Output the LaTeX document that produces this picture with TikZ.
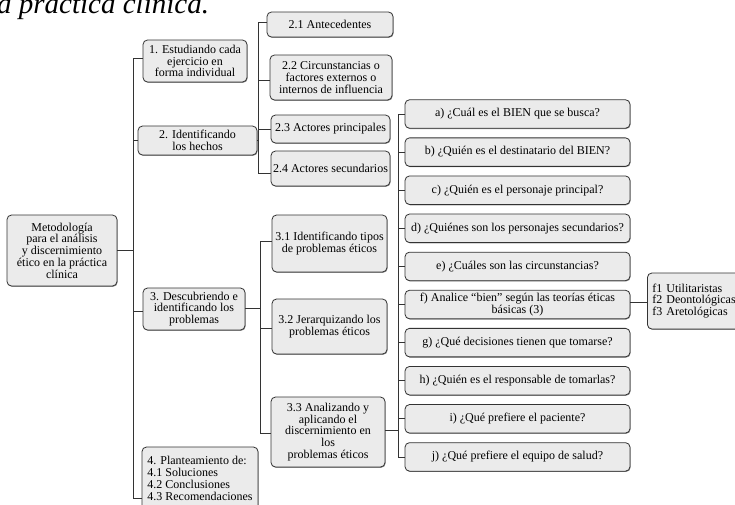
\documentclass[tikz,border=0pt]{standalone}
\usepackage{fontspec}
\setmainfont{Liberation Serif}
\usetikzlibrary{shadows}
\tikzset{
  box/.style={draw=black!80, line width=0.8pt, fill=black!8, rounded corners=4.5pt,
    align=center, inner sep=0pt, font=\fontsize{12}{11.8}\selectfont,
    drop shadow={shadow xshift=0.6pt, shadow yshift=-0.8pt, fill=black, opacity=0.45}},
  lbox/.style={box, align=left, inner xsep=5pt},
  conn/.style={draw=black!80, line width=0.8pt},
}
\begin{document}
\begin{tikzpicture}[x=1pt,y=-1pt]
\useasboundingbox (0,0) rectangle (735,504);
\clip (0,0) rectangle (735,504);
% title fragment
\node[anchor=base west, inner sep=0pt, font=\fontsize{29}{30}\selectfont\itshape] (title) at (-3,13) {a práctica clínica.};
% root
\node[box, minimum width=110pt, minimum height=71pt] (root) at (62,250.5) {Metodología\\para el análisis\\y discernimiento\\ético en la práctica\\clínica};
% level 1
\node[box, minimum width=104pt, minimum height=42pt] (b1) at (195,61) {1. Estudiando cada\\ejercicio en\\forma individual};
\node[box, minimum width=119pt, minimum height=29pt] (b2) at (197.5,140.5) {2. Identificando\\los hechos};
\node[box, minimum width=102pt, minimum height=42pt] (b3) at (194,309) {3. Descubriendo e\\identificando los\\problemas};
\node[lbox, inner xsep=4pt, minimum width=116pt, minimum height=63pt] (b4) at (200,478.5) {4. Planteamiento de:\\4.1 Soluciones\\4.2 Conclusiones\\4.3 Recomendaciones};
% level 2 under 2
\node[box, minimum width=126pt, minimum height=25pt] (c21) at (330,24.5) {2.1 Antecedentes};
\node[box, minimum width=122pt, minimum height=45pt] (c22) at (331,77.5) {2.2 Circunstancias o\\factores externos o\\internos de influencia};
\node[box, minimum width=119pt, minimum height=28pt] (c23) at (330.5,129) {2.3 Actores principales};
\node[box, minimum width=119pt, minimum height=35pt] (c24) at (330.5,168.5) {2.4 Actores secundarios};
% level 2 under 3
\node[box, minimum width=115pt, minimum height=57pt] (c31) at (329.5,243.5) {3.1 Identificando tipos\\de problemas éticos};
\node[box, minimum width=115pt, minimum height=55pt] (c32) at (329.5,326.5) {3.2 Jerarquizando los\\problemas éticos};
\node[box, minimum width=114pt, minimum height=70pt] (c33) at (328,432) {3.3 Analizando y\\aplicando el\\discernimiento en\\los\\problemas éticos};
% questions
\foreach \n/\t [count=\k from 0] in {
  qa/{a) ¿Cuál es el BIEN que se busca?},
  qb/{b) ¿Quién es el destinatario del BIEN?},
  qc/{c) ¿Quién es el personaje principal?},
  qd/{d) ¿Quiénes son los personajes secundarios?},
  qe/{e) ¿Cuáles son las circunstancias?},
  qf/{f) Analice “bien” según las teorías éticas\\básicas (3)},
  qg/{g) ¿Qué decisiones tienen que tomarse?},
  qh/{h) ¿Quién es el responsable de tomarlas?},
  qi/{i) ¿Qué prefiere el paciente?},
  qj/{j) ¿Qué prefiere el equipo de salud?}}
  \node[box, minimum width=225pt, minimum height=28.5pt] (\n) at (517.5,{114+38.1*\k}) {\t};
\node[lbox, anchor=west, text width=100pt, minimum height=56pt] (ff) at (647,301) {f1 Utilitaristas\\f2 Deontológicas\\f3 Aretológicas};
% trunks
\coordinate (tA) at (133,0);
\coordinate (tB) at (258,0);
\coordinate (tC) at (260,0);
\coordinate (tD) at (398,0);
% connectors level 1
\draw[conn] (root.east) -- (root.east -| tA);
\draw[conn] ([yshift=3pt]b1.west) -| ([yshift=-19.5pt]b4.west -| tA) -- ([yshift=-19.5pt]b4.west);
\draw[conn] (b2.west) -- (b2.west -| tA);
\draw[conn] ([yshift=-2pt]b3.west) -- ([yshift=-2pt]b3.west -| tA);
% connectors under 2
\draw[conn] (b2.east) -- (b2.east -| tB);
\draw[conn] ([yshift=2.5pt]c21.west) -| ([yshift=-4.5pt]c24.west -| tB) -- ([yshift=-4.5pt]c24.west);
\draw[conn] ([yshift=-2.5pt]c22.west) -- ([yshift=-2.5pt]c22.west -| tB);
\draw[conn] (c23.west) -- (c23.west -| tB);
% connectors under 3
\draw[conn] ([yshift=1pt]b3.east) -- ([yshift=1pt]b3.east -| tC);
\draw[conn] ([yshift=2.5pt]c31.west) -| ([yshift=-1pt]c33.west -| tC) -- ([yshift=-1pt]c33.west);
\draw[conn] ([yshift=-1.5pt]c32.west) -- ([yshift=-1.5pt]c32.west -| tC);
% connectors under 3.3
\draw[conn] ([yshift=2pt]c33.east) -- ([yshift=2pt]c33.east -| tD);
\draw[conn] (qa.west) -| (qj.west -| tD) -- (qj.west);
\foreach \n in {qb,qc,qd,qe,qf,qg,qh,qi}
  \draw[conn] (\n.west) -- (\n.west -| tD);
\draw[conn] ([yshift=2pt]qf.east) -- ([yshift=2pt]qf.east -| ff.west);
\end{tikzpicture}
\end{document}
